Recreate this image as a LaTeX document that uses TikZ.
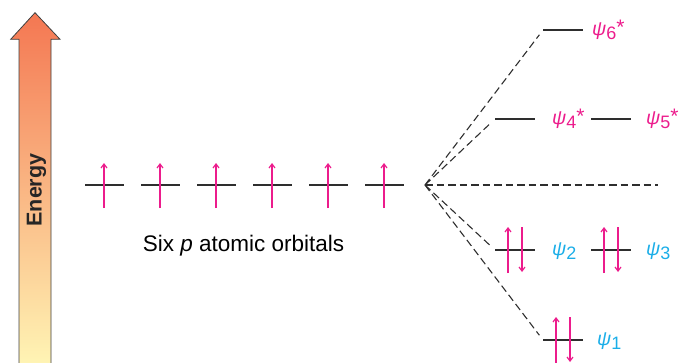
\documentclass[tikz,border=0pt]{standalone}
\usepackage{fontspec}
\setmainfont{Liberation Sans}
\usetikzlibrary{arrows.meta}
\definecolor{mag}{HTML}{EC1C8C}
\definecolor{cyn}{HTML}{1BAEE8}
\definecolor{lvl}{HTML}{2E2E2E}
\definecolor{energytop}{HTML}{F47752}
\definecolor{energybot}{HTML}{FFF4B4}
\newcommand\psilab[2]{{\itshape ψ}\raisebox{-4pt}{\fontsize{18}{18}\selectfont #1}\raisebox{1pt}{\fontsize{21}{21}\selectfont #2}}
\begin{document}
\begin{tikzpicture}[x=1pt,y=-1pt,
  level/.style={draw=lvl, line width=1.3pt},
  conn/.style={draw=lvl, line width=1.1pt, dash pattern=on 7.5pt off 4pt, shorten >=6pt},
  spinup/.style={draw=mag, line width=1.2pt, -{Straight Barb[length=4pt,width=6pt]}},
  lab/.style={inner sep=0pt, anchor=base west, font=\fontsize{19.5}{20}\selectfont},
]
\useasboundingbox (0,0) rectangle (679,362);
% energy arrow
\path[draw=black!75, line width=0.8pt, top color=energytop, bottom color=energybot]
  (19,363) -- (19,39.3) -- (10.7,39.3) -- (35,12.7) -- (60,39.3) -- (51,39.3) -- (51,363);
\node[rotate=90, anchor=base, inner sep=0pt, text=black!85,
  font=\bfseries\fontsize{21.5}{22}\selectfont] (energy) at (41.5,190) {Energy};
% six p atomic orbitals
\foreach \i in {0,...,5}{
  \coordinate (a\i l) at (85+56*\i,185);
  \coordinate (a\i r) at (124+56*\i,185);
  \coordinate (a\i s) at (104+56*\i,208);
  \coordinate (a\i e) at (104+56*\i,163);
  \draw[level] (a\i l) -- (a\i r);
  \draw[spinup] (a\i s) -- (a\i e);
}
\node[anchor=base, inner sep=0pt, font=\fontsize{22.5}{24}\selectfont] (six) at (243.5,251)
  {Six \textit{p} atomic orbitals};
% apex and connectors
\coordinate (apex) at (425,185);
\coordinate (mid) at (658,185);
% MO levels
\coordinate (p6l) at (543,30); \coordinate (p6r) at (583,30);
\coordinate (p4l) at (495,119);  \coordinate (p4r) at (535,119);
\coordinate (p5l) at (591,119);  \coordinate (p5r) at (631,119);
\coordinate (p2l) at (495,250);  \coordinate (p2r) at (535,250);
\coordinate (p3l) at (591,250);  \coordinate (p3r) at (631,250);
\coordinate (p1l) at (543,340);  \coordinate (p1r) at (583,340);
\foreach \n in {6,4,5,2,3,1}{\draw[level] (p\n l) -- (p\n r);}
\draw[conn, shorten >=0pt] (apex) -- (mid);
\draw[conn] (apex) -- (p6l);
\draw[conn] (apex) -- (p4l);
\draw[conn] (apex) -- (p2l);
\draw[conn] (apex) -- (p1l);
% electron pairs
\foreach \n/\x/\y in {2/508/250,3/604/250,1/556/340}{
  \coordinate (u\n s) at (\x,\y+23);
  \coordinate (u\n e) at (\x,\y-23);
  \coordinate (d\n s) at (\x+14,\y-23);
  \coordinate (d\n e) at (\x+14,\y+22);
  \draw[spinup] (u\n s) -- (u\n e);
  \draw[spinup] (d\n s) -- (d\n e);
}
% labels
\node[lab, text=mag] (l6) at (592,35) {\psilab{6}{*}};
\node[lab, text=mag] (l4) at (552,124) {\psilab{4}{*}};
\node[lab, text=mag] (l5) at (646,124) {\psilab{5}{*}};
\node[lab, text=cyn] (l2) at (552,255) {\psilab{2}{}};
\node[lab, text=cyn] (l3) at (646,255) {\psilab{3}{}};
\node[lab, text=cyn] (l1) at (597,345) {\psilab{1}{}};
\end{tikzpicture}
\end{document}
